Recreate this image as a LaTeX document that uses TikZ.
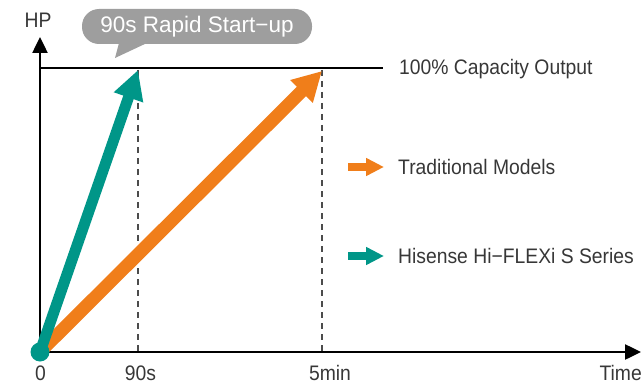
\documentclass[tikz,border=0pt]{standalone}
\usepackage{fontspec}
\setmainfont{Liberation Sans}
\newfontfamily\narrowsans[FakeStretch=0.92]{Liberation Sans}
\usetikzlibrary{arrows.meta}
\definecolor{hteal}{RGB}{0,150,136}
\definecolor{horange}{RGB}{240,126,26}
\definecolor{cgray}{RGB}{158,158,158}
\definecolor{tgray}{RGB}{55,55,55}
\tikzset{
  lbl/.style={text=tgray,font=\narrowsans\fontsize{21}{23}\selectfont,inner sep=0pt},
  axis/.style={line width=2.5pt,-{Triangle[length=16pt,width=15pt]}},
  guide/.style={line width=1.6pt,dash pattern=on 6pt off 5pt,black!70},
}
\begin{document}
\begin{tikzpicture}[x=1pt,y=-1pt]
\useasboundingbox (0,0) rectangle (642,385);
% axes
\coordinate (yend) at (40,37);
\coordinate (xend) at (641,352);
\coordinate (o) at (40,352);
\draw[axis] (o) -- (yend);
\draw[axis] (o) -- (xend);
% capacity line
\coordinate (capL) at (40,68);
\coordinate (capR) at (383,68);
\draw[line width=1.2pt] (capL) -- (capR);
\node[lbl,anchor=west] (caplbl) at (399,69) {100\% Capacity Output};
% dashed guides
\coordinate (g90t) at (138,70);
\coordinate (g90b) at (138,352);
\coordinate (g5t) at (322,70);
\coordinate (g5b) at (322,352);
\draw[guide] (g90t) -- (g90b);
\draw[guide] (g5t) -- (g5b);
% axis labels
\node[lbl] (hp) at (38,20) {HP};
\node[lbl] (zero) at (40.5,373) {0};
\node[lbl] (l90) at (140.5,373) {90s};
\node[lbl] (l5) at (330,373) {5min};
\node[lbl,anchor=east] (ltime) at (642,373) {Time};
% rising arrows
\coordinate (tealtip) at (138,70);
\coordinate (orangetip) at (322,71);
\draw[horange,line width=13pt,-{Triangle[length=29pt,width=30pt]}] (o) -- (orangetip);
\draw[hteal,line width=11pt,-{Triangle[length=29pt,width=29pt]}] (o) -- (tealtip);
\node[circle,fill=hteal,minimum size=19pt,inner sep=0pt] (dot) at (o) {};
% callout
\node[fill=cgray,rounded corners=17pt,minimum width=230pt,minimum height=35pt,inner sep=0pt,
  text=white,font=\fontsize{22.5}{24}\selectfont] (call) at (197,26.5) {90s Rapid Start−up};
\fill[cgray] (119,43) -- (115,58) -- (147,43) -- cycle;
% legend
\coordinate (la1) at (348,167);
\coordinate (la2) at (384,167);
\coordinate (lb1) at (348,256);
\coordinate (lb2) at (384,256);
\draw[horange,line width=8pt,-{Triangle[length=18pt,width=17pt]}] (la1) -- (la2);
\draw[hteal,line width=8pt,-{Triangle[length=18pt,width=17pt]}] (lb1) -- (lb2);
\node[lbl,anchor=west] (trad) at (398,167) {Traditional Models};
\node[lbl,anchor=west] (his) at (398,256) {Hisense Hi−FLEXi S Series};
\end{tikzpicture}
\end{document}
